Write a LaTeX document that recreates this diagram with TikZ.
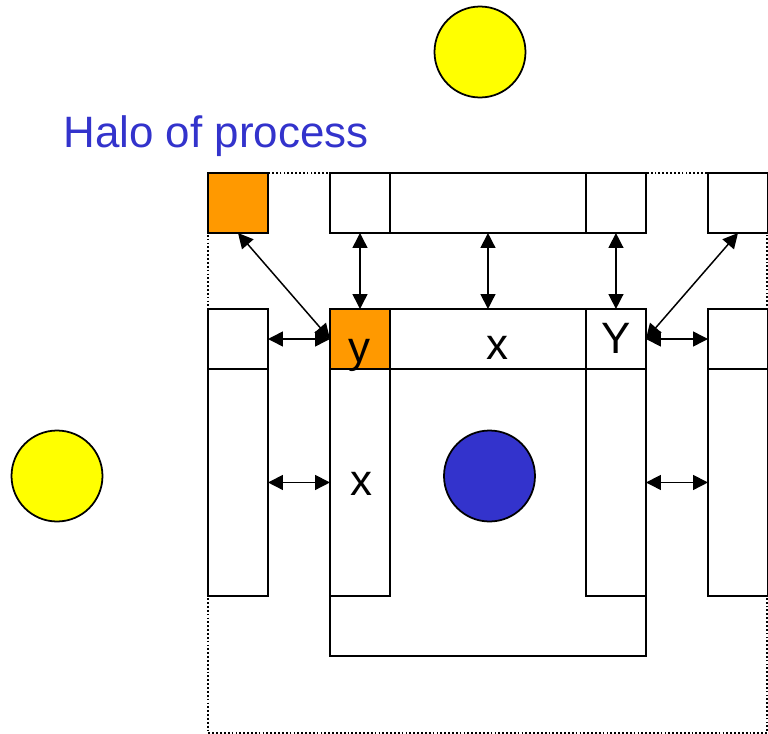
\documentclass[tikz,border=0pt]{standalone}
\usepackage{fontspec}
\setmainfont{Liberation Sans}
\usepackage{xcolor}
\usepackage{tikz}
\usetikzlibrary{arrows.meta, positioning}
\definecolor{halofill}{RGB}{255,153,0}
\definecolor{sunfill}{RGB}{255,255,0}
\definecolor{corefill}{RGB}{51,51,204}

\begin{document}
\begin{tikzpicture}[
  x=0.02cm, y=-0.02cm,
  cell/.style={rectangle, draw, fill=white, line width=1pt, inner sep=0pt, outer sep=0pt, minimum width=1.2cm, minimum height=1.2cm},
  wide/.style={cell, minimum width=3.92cm},
  tall/.style={cell, minimum height=4.54cm},
  ghost/.style={cell, fill=halofill},
  ball/.style={circle, draw, line width=1pt, inner sep=0pt, minimum size=1.82cm},
  lbl/.style={inner sep=0pt, font=\fontsize{25}{30}\selectfont},
  arrow/.style={{Triangle[length=3mm,width=3mm]}-{Triangle[length=3mm,width=3mm]}, line width=0.85pt},
]
\useasboundingbox (0,0) rectangle (768,734);
% halo frame and own block
\draw[dash pattern=on 1pt off 1.2pt, line width=1pt] (208,173) rectangle (767,733);
\node[cell, minimum width=6.32cm, minimum height=6.94cm] (own) at (488,482.5) {};
% outer halo cells
\node[ghost] (hc) at (238,203) {};
\node[cell] (ht1) at (360,203) {};
\node[wide, right=0pt of ht1] (htx) {};
\node[cell, right=0pt of htx] (hty) {};
\node[cell] (hr) at (738,203) {};
\node[cell] (hl) at (238,339) {};
\node[tall, below=0pt of hl] (hlx) {};
\node[cell] (rl) at (738,339) {};
\node[tall, below=0pt of rl] (rlx) {};
% boundary cells of the process
\node[ghost] (oy) at (360,339) {};
\node[wide, right=0pt of oy] (ox) {};
\node[cell, right=0pt of ox] (oY) {};
\node[tall, below=0pt of oy] (ix) {};
\node[tall, below=0pt of oY] (iy) {};
% labels
\node[lbl] (ly) at (359,355) {y};
\node[lbl] (lx) at (497,348) {x};
\node[lbl] (lY) at (616,338) {Y};
\node[lbl] (lix) at (361,484) {x};
\node[lbl, text=corefill] (title) at (216,136.5) {Halo of process};
% processes
\node[ball, fill=sunfill] (sunA) at (480,52) {};
\node[ball, fill=sunfill] (sunB) at (57,476) {};
\node[ball, fill=corefill] (core) at (489.5,476) {};
% exchanges
\draw[arrow] (hc.south) -- (oy.west);
\draw[arrow] (hr.south) -- (oY.east);
\draw[arrow] (ht1) -- (oy);
\draw[arrow] (htx) -- (ox);
\draw[arrow] (hty) -- (oY);
\draw[arrow] (hl) -- (oy);
\draw[arrow] (oY) -- (rl);
\draw[arrow] (hlx) -- (ix);
\draw[arrow] (iy) -- (rlx);
\end{tikzpicture}
\end{document}
